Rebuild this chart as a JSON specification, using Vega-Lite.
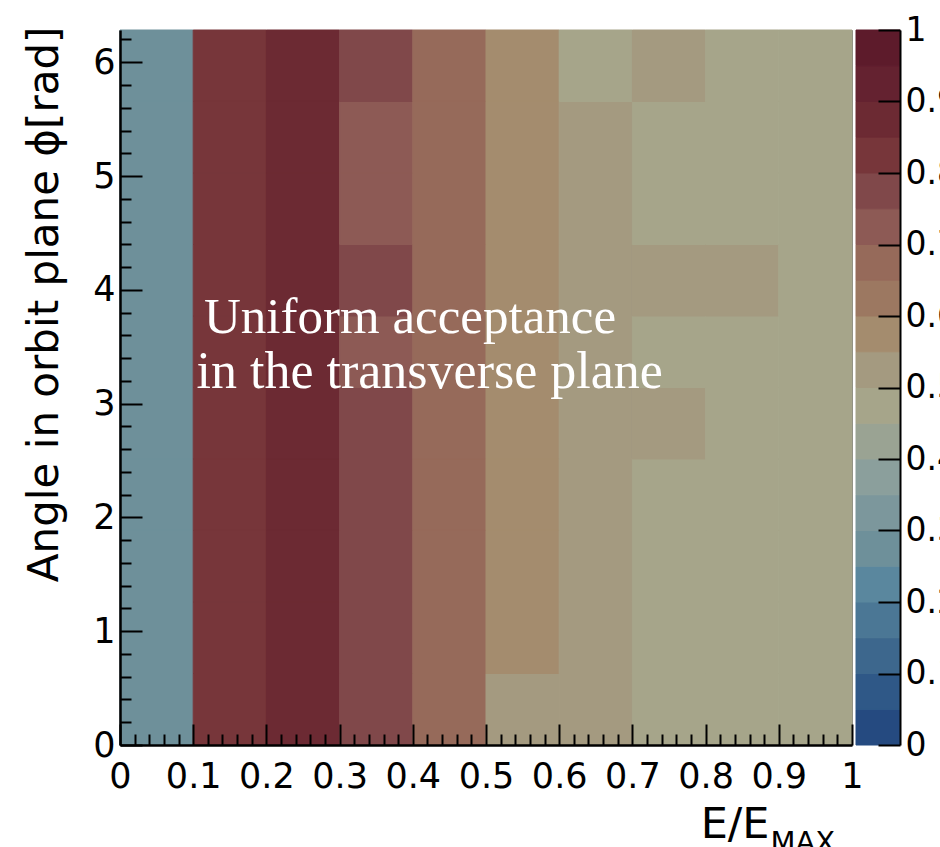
{
  "$schema": "https://vega.github.io/schema/vega-lite/v6.json",
  "width": 732,
  "height": 715,
  "autosize": {"type": "none"},
  "padding": {"left": 120, "top": 30, "right": 88, "bottom": 102},
  "background": "white",
  "config": {
    "view": {"stroke": "#808080", "strokeWidth": 1},
    "axis": {
      "grid": false,
      "labelFont": "DejaVu Sans",
      "titleFont": "DejaVu Sans",
      "labelColor": "black",
      "titleColor": "black",
      "domainColor": "black",
      "tickColor": "black",
      "labelFlush": false,
      "labelOverlap": false,
      "titleFontWeight": "normal"
    }
  },
  "datasets": {
    "cells": [
      {"e0":0,"e1":0.1,"p0":0,"p1":0.6283,"v":0.28},
      {"e0":0,"e1":0.1,"p0":0.6283,"p1":1.2566,"v":0.28},
      {"e0":0,"e1":0.1,"p0":1.2566,"p1":1.885,"v":0.28},
      {"e0":0,"e1":0.1,"p0":1.885,"p1":2.5133,"v":0.28},
      {"e0":0,"e1":0.1,"p0":2.5133,"p1":3.1416,"v":0.28},
      {"e0":0,"e1":0.1,"p0":3.1416,"p1":3.7699,"v":0.28},
      {"e0":0,"e1":0.1,"p0":3.7699,"p1":4.3982,"v":0.28},
      {"e0":0,"e1":0.1,"p0":4.3982,"p1":5.0265,"v":0.28},
      {"e0":0,"e1":0.1,"p0":5.0265,"p1":5.6549,"v":0.28},
      {"e0":0,"e1":0.1,"p0":5.6549,"p1":6.2832,"v":0.28},
      {"e0":0.1,"e1":0.2,"p0":0,"p1":0.6283,"v":0.83},
      {"e0":0.1,"e1":0.2,"p0":0.6283,"p1":1.2566,"v":0.83},
      {"e0":0.1,"e1":0.2,"p0":1.2566,"p1":1.885,"v":0.83},
      {"e0":0.1,"e1":0.2,"p0":1.885,"p1":2.5133,"v":0.83},
      {"e0":0.1,"e1":0.2,"p0":2.5133,"p1":3.1416,"v":0.83},
      {"e0":0.1,"e1":0.2,"p0":3.1416,"p1":3.7699,"v":0.83},
      {"e0":0.1,"e1":0.2,"p0":3.7699,"p1":4.3982,"v":0.83},
      {"e0":0.1,"e1":0.2,"p0":4.3982,"p1":5.0265,"v":0.83},
      {"e0":0.1,"e1":0.2,"p0":5.0265,"p1":5.6549,"v":0.83},
      {"e0":0.1,"e1":0.2,"p0":5.6549,"p1":6.2832,"v":0.83},
      {"e0":0.2,"e1":0.3,"p0":0,"p1":0.6283,"v":0.87},
      {"e0":0.2,"e1":0.3,"p0":0.6283,"p1":1.2566,"v":0.87},
      {"e0":0.2,"e1":0.3,"p0":1.2566,"p1":1.885,"v":0.87},
      {"e0":0.2,"e1":0.3,"p0":1.885,"p1":2.5133,"v":0.87},
      {"e0":0.2,"e1":0.3,"p0":2.5133,"p1":3.1416,"v":0.87},
      {"e0":0.2,"e1":0.3,"p0":3.1416,"p1":3.7699,"v":0.87},
      {"e0":0.2,"e1":0.3,"p0":3.7699,"p1":4.3982,"v":0.87},
      {"e0":0.2,"e1":0.3,"p0":4.3982,"p1":5.0265,"v":0.87},
      {"e0":0.2,"e1":0.3,"p0":5.0265,"p1":5.6549,"v":0.87},
      {"e0":0.2,"e1":0.3,"p0":5.6549,"p1":6.2832,"v":0.87},
      {"e0":0.3,"e1":0.4,"p0":0,"p1":0.6283,"v":0.78},
      {"e0":0.3,"e1":0.4,"p0":0.6283,"p1":1.2566,"v":0.78},
      {"e0":0.3,"e1":0.4,"p0":1.2566,"p1":1.885,"v":0.78},
      {"e0":0.3,"e1":0.4,"p0":1.885,"p1":2.5133,"v":0.78},
      {"e0":0.3,"e1":0.4,"p0":2.5133,"p1":3.1416,"v":0.78},
      {"e0":0.3,"e1":0.4,"p0":3.1416,"p1":3.7699,"v":0.73},
      {"e0":0.3,"e1":0.4,"p0":3.7699,"p1":4.3982,"v":0.78},
      {"e0":0.3,"e1":0.4,"p0":4.3982,"p1":5.0265,"v":0.73},
      {"e0":0.3,"e1":0.4,"p0":5.0265,"p1":5.6549,"v":0.73},
      {"e0":0.3,"e1":0.4,"p0":5.6549,"p1":6.2832,"v":0.78},
      {"e0":0.4,"e1":0.5,"p0":0,"p1":0.6283,"v":0.67},
      {"e0":0.4,"e1":0.5,"p0":0.6283,"p1":1.2566,"v":0.67},
      {"e0":0.4,"e1":0.5,"p0":1.2566,"p1":1.885,"v":0.67},
      {"e0":0.4,"e1":0.5,"p0":1.885,"p1":2.5133,"v":0.67},
      {"e0":0.4,"e1":0.5,"p0":2.5133,"p1":3.1416,"v":0.67},
      {"e0":0.4,"e1":0.5,"p0":3.1416,"p1":3.7699,"v":0.67},
      {"e0":0.4,"e1":0.5,"p0":3.7699,"p1":4.3982,"v":0.67},
      {"e0":0.4,"e1":0.5,"p0":4.3982,"p1":5.0265,"v":0.67},
      {"e0":0.4,"e1":0.5,"p0":5.0265,"p1":5.6549,"v":0.67},
      {"e0":0.4,"e1":0.5,"p0":5.6549,"p1":6.2832,"v":0.67},
      {"e0":0.5,"e1":0.6,"p0":0,"p1":0.6283,"v":0.53},
      {"e0":0.5,"e1":0.6,"p0":0.6283,"p1":1.2566,"v":0.58},
      {"e0":0.5,"e1":0.6,"p0":1.2566,"p1":1.885,"v":0.58},
      {"e0":0.5,"e1":0.6,"p0":1.885,"p1":2.5133,"v":0.58},
      {"e0":0.5,"e1":0.6,"p0":2.5133,"p1":3.1416,"v":0.58},
      {"e0":0.5,"e1":0.6,"p0":3.1416,"p1":3.7699,"v":0.58},
      {"e0":0.5,"e1":0.6,"p0":3.7699,"p1":4.3982,"v":0.58},
      {"e0":0.5,"e1":0.6,"p0":4.3982,"p1":5.0265,"v":0.58},
      {"e0":0.5,"e1":0.6,"p0":5.0265,"p1":5.6549,"v":0.58},
      {"e0":0.5,"e1":0.6,"p0":5.6549,"p1":6.2832,"v":0.58},
      {"e0":0.6,"e1":0.7,"p0":0,"p1":0.6283,"v":0.53},
      {"e0":0.6,"e1":0.7,"p0":0.6283,"p1":1.2566,"v":0.53},
      {"e0":0.6,"e1":0.7,"p0":1.2566,"p1":1.885,"v":0.53},
      {"e0":0.6,"e1":0.7,"p0":1.885,"p1":2.5133,"v":0.53},
      {"e0":0.6,"e1":0.7,"p0":2.5133,"p1":3.1416,"v":0.53},
      {"e0":0.6,"e1":0.7,"p0":3.1416,"p1":3.7699,"v":0.53},
      {"e0":0.6,"e1":0.7,"p0":3.7699,"p1":4.3982,"v":0.53},
      {"e0":0.6,"e1":0.7,"p0":4.3982,"p1":5.0265,"v":0.53},
      {"e0":0.6,"e1":0.7,"p0":5.0265,"p1":5.6549,"v":0.53},
      {"e0":0.6,"e1":0.7,"p0":5.6549,"p1":6.2832,"v":0.48},
      {"e0":0.7,"e1":0.8,"p0":0,"p1":0.6283,"v":0.48},
      {"e0":0.7,"e1":0.8,"p0":0.6283,"p1":1.2566,"v":0.48},
      {"e0":0.7,"e1":0.8,"p0":1.2566,"p1":1.885,"v":0.48},
      {"e0":0.7,"e1":0.8,"p0":1.885,"p1":2.5133,"v":0.48},
      {"e0":0.7,"e1":0.8,"p0":2.5133,"p1":3.1416,"v":0.53},
      {"e0":0.7,"e1":0.8,"p0":3.1416,"p1":3.7699,"v":0.48},
      {"e0":0.7,"e1":0.8,"p0":3.7699,"p1":4.3982,"v":0.53},
      {"e0":0.7,"e1":0.8,"p0":4.3982,"p1":5.0265,"v":0.48},
      {"e0":0.7,"e1":0.8,"p0":5.0265,"p1":5.6549,"v":0.48},
      {"e0":0.7,"e1":0.8,"p0":5.6549,"p1":6.2832,"v":0.53},
      {"e0":0.8,"e1":0.9,"p0":0,"p1":0.6283,"v":0.48},
      {"e0":0.8,"e1":0.9,"p0":0.6283,"p1":1.2566,"v":0.48},
      {"e0":0.8,"e1":0.9,"p0":1.2566,"p1":1.885,"v":0.48},
      {"e0":0.8,"e1":0.9,"p0":1.885,"p1":2.5133,"v":0.48},
      {"e0":0.8,"e1":0.9,"p0":2.5133,"p1":3.1416,"v":0.48},
      {"e0":0.8,"e1":0.9,"p0":3.1416,"p1":3.7699,"v":0.48},
      {"e0":0.8,"e1":0.9,"p0":3.7699,"p1":4.3982,"v":0.53},
      {"e0":0.8,"e1":0.9,"p0":4.3982,"p1":5.0265,"v":0.48},
      {"e0":0.8,"e1":0.9,"p0":5.0265,"p1":5.6549,"v":0.48},
      {"e0":0.8,"e1":0.9,"p0":5.6549,"p1":6.2832,"v":0.48},
      {"e0":0.9,"e1":1,"p0":0,"p1":0.6283,"v":0.48},
      {"e0":0.9,"e1":1,"p0":0.6283,"p1":1.2566,"v":0.48},
      {"e0":0.9,"e1":1,"p0":1.2566,"p1":1.885,"v":0.48},
      {"e0":0.9,"e1":1,"p0":1.885,"p1":2.5133,"v":0.48},
      {"e0":0.9,"e1":1,"p0":2.5133,"p1":3.1416,"v":0.48},
      {"e0":0.9,"e1":1,"p0":3.1416,"p1":3.7699,"v":0.48},
      {"e0":0.9,"e1":1,"p0":3.7699,"p1":4.3982,"v":0.48},
      {"e0":0.9,"e1":1,"p0":4.3982,"p1":5.0265,"v":0.48},
      {"e0":0.9,"e1":1,"p0":5.0265,"p1":5.6549,"v":0.48},
      {"e0":0.9,"e1":1,"p0":5.6549,"p1":6.2832,"v":0.48}
    ],
    "levels": [
      {"lo":0,"hi":0.05},{"lo":0.05,"hi":0.1},{"lo":0.1,"hi":0.15},{"lo":0.15,"hi":0.2},
      {"lo":0.2,"hi":0.25},{"lo":0.25,"hi":0.3},{"lo":0.3,"hi":0.35},{"lo":0.35,"hi":0.4},
      {"lo":0.4,"hi":0.45},{"lo":0.45,"hi":0.5},{"lo":0.5,"hi":0.55},{"lo":0.55,"hi":0.6},
      {"lo":0.6,"hi":0.65},{"lo":0.65,"hi":0.7},{"lo":0.7,"hi":0.75},{"lo":0.75,"hi":0.8},
      {"lo":0.8,"hi":0.85},{"lo":0.85,"hi":0.9},{"lo":0.9,"hi":0.95},{"lo":0.95,"hi":1}
    ]
  },
  "resolve": {"scale": {"x": "independent", "y": "independent", "color": "shared", "stroke": "shared"}},
  "layer": [
    {
      "data": {"name": "cells"},
      "mark": {"type": "rect", "strokeWidth": 1},
      "encoding": {
        "x": {
          "field": "e0", "type": "quantitative",
          "scale": {"domain": [0, 1], "nice": false, "zero": false},
          "axis": {
            "orient": "bottom", "zindex": 2,
            "values": [0, 0.1, 0.2, 0.3, 0.4, 0.5, 0.6, 0.7, 0.8, 0.9, 1],
            "format": "~g",
            "tickSize": -21, "tickWidth": 2, "domainWidth": 2.5,
            "labelFontSize": 35, "labelPadding": 35.5,
            "title": "E/E", "titleFontSize": 43,
            "titleX": 649, "titleY": 92,
            "titleAlign": "right", "titleBaseline": "alphabetic"
          }
        },
        "x2": {"field": "e1"},
        "y": {
          "field": "p0", "type": "quantitative",
          "scale": {"domain": [0, 6.2832], "nice": false, "zero": false},
          "axis": {
            "orient": "left", "zindex": 2,
            "values": [0, 1, 2, 3, 4, 5, 6],
            "format": "d",
            "tickSize": -22, "tickWidth": 2, "domainWidth": 2.5,
            "labelFontSize": 35, "labelPadding": 27,
            "title": "Angle in orbit plane ϕ[rad]", "titleFontSize": 42,
            "titleAngle": 270,
            "titleX": -63, "titleY": -4,
            "titleAlign": "right", "titleBaseline": "alphabetic"
          }
        },
        "y2": {"field": "p1"},
        "color": {
          "field": "v", "type": "quantitative",
          "scale": {
            "type": "quantize", "domain": [0, 1], "nice": false, "zero": false,
            "range": ["#254a80", "#2f5887", "#3d678d", "#4b7795", "#5a879e", "#6e909a", "#7c979c", "#8b9f9c", "#9aa393", "#a6a58a",
                      "#a49a80", "#a48c6e", "#9c7861", "#966a5a", "#8d5a55", "#80484a", "#77363a", "#6c2a33", "#642230", "#5d1b2b"]
          },
          "legend": null
        },
        "stroke": {
          "field": "v", "type": "quantitative",
          "scale": {
            "type": "quantize", "domain": [0, 1], "nice": false, "zero": false,
            "range": ["#254a80", "#2f5887", "#3d678d", "#4b7795", "#5a879e", "#6e909a", "#7c979c", "#8b9f9c", "#9aa393", "#a6a58a",
                      "#a49a80", "#a48c6e", "#9c7861", "#966a5a", "#8d5a55", "#80484a", "#77363a", "#6c2a33", "#642230", "#5d1b2b"]
          },
          "legend": null
        }
      }
    },
    {
      "data": {"name": "levels"},
      "mark": {"type": "rect", "strokeWidth": 1},
      "encoding": {
        "x": {"datum": 0, "type": "quantitative", "scale": {"domain": [0, 1], "range": [736, 780]}, "axis": null},
        "x2": {"datum": 1},
        "y": {
          "field": "lo", "type": "quantitative",
          "scale": {"domain": [0, 1], "nice": false, "zero": false},
          "axis": {
            "orient": "right", "offset": 48, "zindex": 2,
            "values": [0, 0.1, 0.2, 0.3, 0.4, 0.5, 0.6, 0.7, 0.8, 0.9, 1],
            "format": "~g",
            "tickSize": -22, "tickWidth": 2, "domainWidth": 2,
            "labelFontSize": 33, "labelPadding": 27,
            "title": null
          }
        },
        "y2": {"field": "hi"},
        "color": {
          "field": "lo", "type": "quantitative",
          "scale": {
            "type": "quantize", "domain": [0, 1], "nice": false, "zero": false,
            "range": ["#254a80", "#2f5887", "#3d678d", "#4b7795", "#5a879e", "#6e909a", "#7c979c", "#8b9f9c", "#9aa393", "#a6a58a",
                      "#a49a80", "#a48c6e", "#9c7861", "#966a5a", "#8d5a55", "#80484a", "#77363a", "#6c2a33", "#642230", "#5d1b2b"]
          },
          "legend": null
        },
        "stroke": {
          "field": "lo", "type": "quantitative",
          "scale": {
            "type": "quantize", "domain": [0, 1], "nice": false, "zero": false,
            "range": ["#254a80", "#2f5887", "#3d678d", "#4b7795", "#5a879e", "#6e909a", "#7c979c", "#8b9f9c", "#9aa393", "#a6a58a",
                      "#a49a80", "#a48c6e", "#9c7861", "#966a5a", "#8d5a55", "#80484a", "#77363a", "#6c2a33", "#642230", "#5d1b2b"]
          },
          "legend": null
        }
      }
    },
    {
      "data": {"values": [{"label": "Uniform acceptance"}]},
      "mark": {"type": "text", "font": "Liberation Serif", "fontSize": 51, "color": "white", "align": "left", "baseline": "alphabetic"},
      "encoding": {
        "x": {
          "datum": 0.1148, "type": "quantitative",
          "scale": {"domain": [0, 1], "nice": false, "zero": false},
          "axis": {
            "orient": "bottom", "zindex": 2,
            "values": [0.02, 0.04, 0.06, 0.08, 0.12, 0.14, 0.16, 0.18, 0.22, 0.24, 0.26, 0.28, 0.32, 0.34, 0.36, 0.38, 0.42, 0.44, 0.46, 0.48, 0.52, 0.54, 0.56, 0.58, 0.62, 0.64, 0.66, 0.68, 0.72, 0.74, 0.76, 0.78, 0.82, 0.84, 0.86, 0.88, 0.92, 0.94, 0.96, 0.98],
            "labels": false, "domain": false,
            "tickSize": -11, "tickWidth": 2,
            "title": "MAX", "titleFontSize": 29,
            "titleX": 650, "titleY": 106,
            "titleAlign": "left", "titleBaseline": "alphabetic"
          }
        },
        "y": {"datum": 3.6205, "type": "quantitative", "scale": {"domain": [0, 6.2832], "nice": false, "zero": false}, "axis": null},
        "text": {"field": "label"}
      }
    },
    {
      "data": {"values": [{"label": "in the transverse plane"}]},
      "mark": {"type": "text", "font": "Liberation Serif", "fontSize": 52, "color": "white", "align": "left", "baseline": "alphabetic"},
      "encoding": {
        "x": {"datum": 0.1045, "type": "quantitative", "scale": {"domain": [0, 1], "nice": false, "zero": false}, "axis": null},
        "y": {
          "datum": 3.1372, "type": "quantitative",
          "scale": {"domain": [0, 6.2832], "nice": false, "zero": false},
          "axis": {
            "orient": "left", "zindex": 2,
            "values": [0.2, 0.4, 0.6, 0.8, 1.2, 1.4, 1.6, 1.8, 2.2, 2.4, 2.6, 2.8, 3.2, 3.4, 3.6, 3.8, 4.2, 4.4, 4.6, 4.8, 5.2, 5.4, 5.6, 5.8, 6.2],
            "labels": false, "domain": false,
            "tickSize": -11, "tickWidth": 2,
            "title": null
          }
        },
        "text": {"field": "label"}
      }
    }
  ]
}
